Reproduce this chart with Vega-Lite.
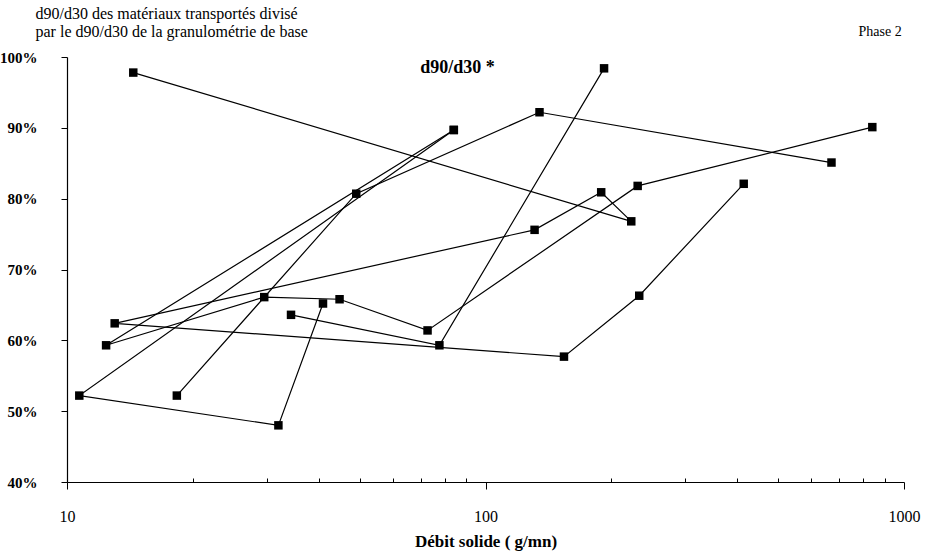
{
  "$schema": "https://vega.github.io/schema/vega-lite/v6.json",
  "width": 837,
  "height": 425,
  "autosize": "none",
  "padding": {"left": 67, "top": 57, "right": 29, "bottom": 73},
  "background": "white",
  "config": {"view": {"stroke": null}, "font": "Liberation Serif"},
  "title": {"text": "d90/d30 *", "font": "Liberation Serif", "fontSize": 18, "fontWeight": "bold", "color": "black", "anchor": "middle", "dx": -28, "dy": 48, "offset": -24},
  "data": {"values": [
    {"s": "s1", "i": 1, "x": 14.4, "y": 97.8},
    {"s": "s1", "i": 2, "x": 223, "y": 76.8},
    {"s": "s1", "i": 3, "x": 189, "y": 80.9},
    {"s": "s1", "i": 4, "x": 131, "y": 75.6},
    {"s": "s1", "i": 5, "x": 13.0, "y": 62.4},
    {"s": "s1", "i": 6, "x": 154, "y": 57.7},
    {"s": "s1", "i": 7, "x": 233, "y": 66.3},
    {"s": "s1", "i": 8, "x": 414, "y": 82.1},
    {"s": "s2", "i": 1, "x": 34.3, "y": 63.6},
    {"s": "s2", "i": 2, "x": 77.6, "y": 59.3},
    {"s": "s2", "i": 3, "x": 192, "y": 98.4},
    {"s": "s3", "i": 1, "x": 40.9, "y": 65.2},
    {"s": "s3", "i": 2, "x": 32.0, "y": 48.0},
    {"s": "s3", "i": 3, "x": 10.7, "y": 52.2},
    {"s": "s3", "i": 4, "x": 84.0, "y": 89.7},
    {"s": "s4", "i": 1, "x": 840, "y": 90.1},
    {"s": "s4", "i": 2, "x": 231, "y": 81.8},
    {"s": "s4", "i": 3, "x": 72.7, "y": 61.4},
    {"s": "s4", "i": 4, "x": 44.8, "y": 65.8},
    {"s": "s4", "i": 5, "x": 29.6, "y": 66.1},
    {"s": "s4", "i": 6, "x": 12.4, "y": 59.3},
    {"s": "s4", "i": 7, "x": 84.0, "y": 89.7},
    {"s": "s5", "i": 1, "x": 18.3, "y": 52.2},
    {"s": "s5", "i": 2, "x": 49.1, "y": 80.7},
    {"s": "s5", "i": 3, "x": 134.6, "y": 92.2},
    {"s": "s5", "i": 4, "x": 671, "y": 85.1}
  ]},
  "encoding": {
    "x": {
      "field": "x", "type": "quantitative",
      "scale": {"type": "log", "domain": [10, 1000]},
      "axis": {
        "title": "Débit solide ( g/mn)",
        "titleFont": "Liberation Serif", "titleFontSize": 17, "titleFontWeight": "bold", "titleColor": "black", "titlePadding": 9,
        "values": [10, 20, 30, 40, 50, 60, 70, 80, 90, 100, 200, 300, 400, 500, 600, 700, 800, 900, 1000],
        "labelExpr": "datum.value == 10 || datum.value == 100 || datum.value == 1000 ? datum.value : ''",
        "labelFont": "Liberation Serif", "labelFontSize": 16, "labelColor": "black", "labelPadding": 19,
        "labelFlush": false, "labelOverlap": false,
        "tickSize": {"condition": {"test": "datum.value == 10 || datum.value == 100 || datum.value == 1000", "value": 7}, "value": -4},
        "tickColor": "black", "tickWidth": 1, "domainColor": "black", "domainWidth": 1.2, "grid": false
      }
    },
    "y": {
      "field": "y", "type": "quantitative",
      "scale": {"domain": [40, 100]},
      "axis": {
        "title": ["d90/d30 des matériaux transportés divisé", "par le d90/d30 de la granulométrie de base"],
        "titleAngle": 0, "titleAlign": "left", "titleBaseline": "alphabetic",
        "titleX": -32, "titleY": -39, "titleLineHeight": 18,
        "titleFont": "Liberation Serif", "titleFontSize": 16, "titleFontWeight": "normal", "titleColor": "black",
        "values": [40, 50, 60, 70, 80, 90, 100],
        "labelExpr": "datum.value + '%'",
        "labelFont": "Liberation Serif", "labelFontSize": 15, "labelFontWeight": "bold", "labelColor": "black", "labelPadding": 24,
        "tickSize": 6, "tickColor": "black", "domainColor": "black", "domainWidth": 1.2, "grid": false
      }
    }
  },
  "layer": [
    {
      "mark": {"type": "line", "color": "black", "strokeWidth": 1.2},
      "encoding": {"detail": {"field": "s"}, "order": {"field": "i", "type": "quantitative"}}
    },
    {
      "mark": {"type": "square", "color": "black", "filled": true, "opacity": 1, "size": 72},
      "encoding": {
        "y": {
          "field": "y", "type": "quantitative",
          "axis": {
            "orient": "right", "title": "Phase 2", "titleAngle": 0, "titleAlign": "left", "titleBaseline": "alphabetic",
            "titleX": -46, "titleY": -22, "titleFont": "Liberation Serif", "titleFontSize": 14, "titleFontWeight": "normal", "titleColor": "black",
            "labels": false, "ticks": false, "domain": false, "grid": false
          }
        }
      }
    }
  ],
  "resolve": {"axis": {"y": "independent"}}
}
